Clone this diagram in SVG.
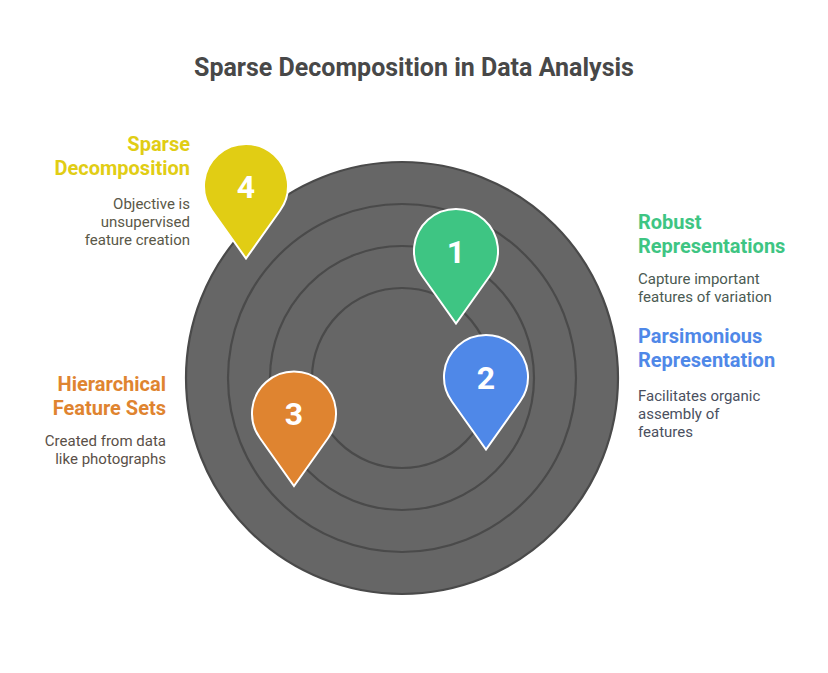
<svg xmlns="http://www.w3.org/2000/svg" width="828" height="673" viewBox="0 0 828 673">
<style>
text{font-family:Roboto,"Liberation Sans",sans-serif}
.ring{fill:#666666;stroke:#4a4a4a;stroke-width:2.2}
.pin{stroke:#ffffff;stroke-width:2}
.num{fill:#ffffff;font-size:32px;font-weight:700;text-anchor:middle}
.head{font-size:20px;font-weight:700}
.body{font-size:15px}
.r{text-anchor:end}
</style>
<defs>
<path id="drop" d="M-34.1 24.5A42 42 0 1 1 34.1 24.5L0 72.5Z"/>
</defs>
<rect width="828" height="673" fill="#ffffff"/>
<text id="title" x="414" y="75.5" text-anchor="middle" font-size="25" font-weight="700" fill="#484848">Sparse Decomposition in Data Analysis</text>
<g id="rings">
<circle class="ring" cx="402" cy="378" r="216"/>
<circle class="ring" cx="402" cy="378" r="174"/>
<circle class="ring" cx="402" cy="378" r="132"/>
<circle class="ring" cx="402" cy="378" r="90"/>
</g>
<g id="connectors"></g>
<g id="node-4">
<use href="#drop" class="pin" x="246" y="186" fill="#e1cd14"/>
<text class="num" x="246" y="197.5">4</text>
<text class="head r" x="190" y="151" fill="#e1cd14">Sparse</text>
<text class="head r" x="190" y="175" fill="#e1cd14">Decomposition</text>
<text class="body r" x="190" y="209" fill="#5a5848">Objective is</text>
<text class="body r" x="190" y="227" fill="#5a5848">unsupervised</text>
<text class="body r" x="190" y="245" fill="#5a5848">feature creation</text>
</g>
<g id="node-1">
<use href="#drop" class="pin" x="456" y="251" fill="#3ec583"/>
<text class="num" x="456" y="262.5">1</text>
<text class="head" x="638" y="229" fill="#3ec583">Robust</text>
<text class="head" x="638" y="253" fill="#3ec583">Representations</text>
<text class="body" x="638" y="284" fill="#4a5a52">Capture important</text>
<text class="body" x="638" y="302" fill="#4a5a52">features of variation</text>
</g>
<g id="node-2">
<use href="#drop" class="pin" x="486" y="377" fill="#4f88e8"/>
<text class="num" x="486" y="388.5">2</text>
<text class="head" x="638" y="343" fill="#4f88e8">Parsimonious</text>
<text class="head" x="638" y="367" fill="#4f88e8">Representation</text>
<text class="body" x="638" y="401" fill="#4a5060">Facilitates organic</text>
<text class="body" x="638" y="419" fill="#4a5060">assembly of</text>
<text class="body" x="638" y="437" fill="#4a5060">features</text>
</g>
<g id="node-3">
<use href="#drop" class="pin" x="294" y="413.5" fill="#df8430"/>
<text class="num" x="294" y="425">3</text>
<text class="head r" x="166" y="391" fill="#df8430">Hierarchical</text>
<text class="head r" x="166" y="415" fill="#df8430">Feature Sets</text>
<text class="body r" x="166" y="446" fill="#5a5048">Created from data</text>
<text class="body r" x="166" y="464" fill="#5a5048">like photographs</text>
</g>
</svg>
